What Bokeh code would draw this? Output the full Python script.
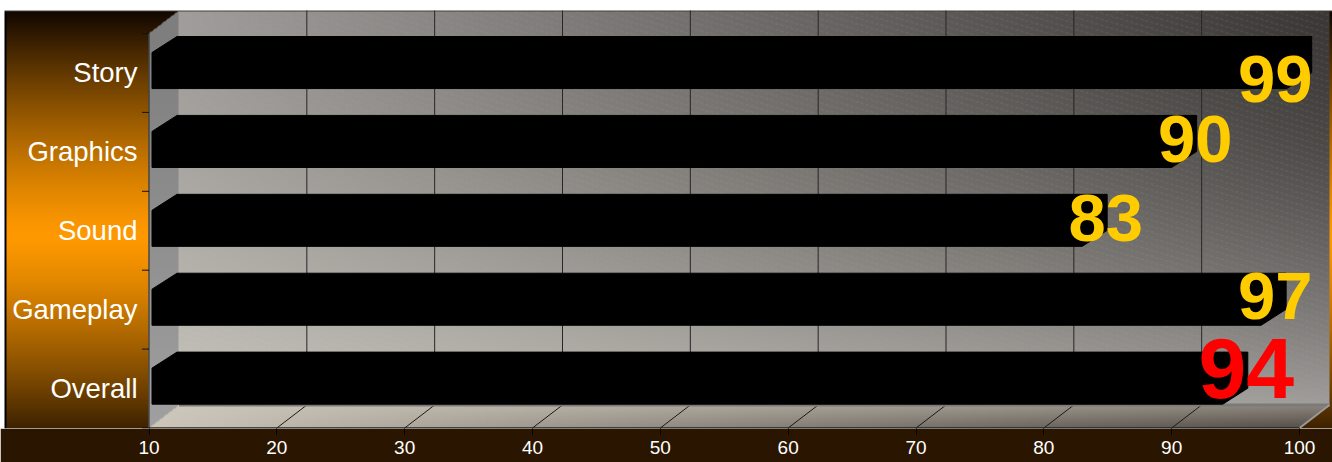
import numpy as np
from bokeh.plotting import figure
from bokeh.models import Range1d, FixedTicker, ColumnDataSource
from bokeh.core.properties import value
from bokeh.embed import file_html
from bokeh.resources import INLINE

# ---------------- data ----------------
categories = ["Overall", "Gameplay", "Sound", "Graphics", "Story"]
scores = [94, 97, 83, 90, 99]
label_colors = ["#FF0000", "#FFCC00", "#FFCC00", "#FFCC00", "#FFCC00"]
label_px = [86, 67, 67, 67, 67]
x_ticks = [10, 20, 30, 40, 50, 60, 70, 80, 90, 100]

# ---------------- layout constants ----------------
W, H = 1332, 462
BOTTOM = 34
FH = H - BOTTOM
X_MIN, X_MAX = x_ticks[0], x_ticks[-1]
N = len(categories)
SX = (1299.0 - 148.5) / (X_MAX - X_MIN)   # px per x unit
SY = (427.5 - 33.0) / N                    # px per category slot
XR0 = X_MIN - 148.5 / SX
XR1 = XR0 + W / SX
YR0 = -(FH - 427.5) / SY
YR1 = YR0 + FH / SY
DX, DY = 30 / SX, 23 / SY       # depth of the walls
BDX, BDY = 25 / SX, 16 / SY     # depth of the bars
BAR_START = X_MIN + 3 / SX
BAR_BOTTOM, BAR_FRONT_TOP = 0.302, 0.759
LABEL_X_MAX, LABEL_Y_MAX = 98.1, 4.113

# ---------------- background picture (gradients) ----------------
PXg, PYg = np.meshgrid(np.arange(W) + 0.5, np.arange(FH) + 0.5)
xd = XR0 + PXg / SX
yd = YR1 - PYg / SY

t = np.clip(np.abs(PYg - 236) / 226, 0, 1) ** 1.3
R = 255 * (1 - t) + 16 * t
G = 153 * (1 - t) + 6 * t
B = np.zeros_like(t)

# back wall
wall = (xd >= X_MIN + DX) & (xd <= X_MAX + DX) & (yd >= DY) & (yd <= N + DY)
xr = np.clip((xd - X_MIN - DX) / (X_MAX - X_MIN), 0, 1)
yr = np.clip((N + DY - yd) / N, 0, 1)
e = yr ** 1.6
top = 158 * (1 - xr) + 56 * xr
bot = 198 * (1 - xr) + 158 * xr
g = top + (bot - top) * e
wr, wg, wb = g + 2, g, g - 6 * (1 - xr) * e - 2
hatch = (np.mod(PYg - 0.3 * PXg, 6) < 1.0) & (np.mod(PXg, 5) < 3.5)
a = 0.18
wr = np.where(hatch, wr * (1 - a) + 215 * a, wr)
wg = np.where(hatch, wg * (1 - a) + 160 * a, wg)
wb = np.where(hatch, wb * (1 - a) + 90 * a, wb)
R = np.where(wall, wr, R); G = np.where(wall, wg, G); B = np.where(wall, wb, B)

# side wall
k = DY / DX
side = (xd >= X_MIN) & (xd < X_MIN + DX) & (yd >= k * (xd - X_MIN)) & (yd <= N + k * (xd - X_MIN))
sg = 126 + 34 * np.clip((N - yd) / N, 0, 1)
R = np.where(side, sg, R); G = np.where(side, sg, G); B = np.where(side, sg, B)

# floor
floor = (yd >= 0) & (yd <= DY) & (xd >= X_MIN + yd / k) & (xd <= X_MAX + yd / k)
fx = np.clip((xd - X_MIN - yd / k) / (X_MAX - X_MIN), 0, 1)
fr = np.clip(1 - yd / DY, 0, 1)
fac = 1 - 0.4 * fr * fx
R = np.where(floor, (205 - 65 * fx) * fac, R)
G = np.where(floor, (198 - 66 * fx) * fac, G)
B = np.where(floor, (186 - 64 * fx) * fac, B)

# outside of the chart box and its border
white = (PXg < 4) | (PYg < 10)
R[white] = 255; G[white] = 255; B[white] = 255
bl = (PXg >= 4) & (PXg < 6) & (PYg >= 10)
R[bl] = 0; G[bl] = 0; B[bl] = 0
bt = (PYg >= 10) & (PYg < 11.5) & (PXg >= 4)
R[bt] = 64; G[bt] = 64; B[bt] = 64

rgba = np.zeros((FH, W, 4), dtype=np.uint8)
rgba[..., 0] = np.clip(R, 0, 255).astype(np.uint8)
rgba[..., 1] = np.clip(G, 0, 255).astype(np.uint8)
rgba[..., 2] = np.clip(B, 0, 255).astype(np.uint8)
rgba[..., 3] = 255
img = np.ascontiguousarray(rgba.view(np.uint32).reshape(FH, W)[::-1])

# ---------------- figure ----------------
p = figure(width=W, height=H, output_backend="svg", toolbar_location=None,
           x_range=Range1d(XR0, XR1), y_range=Range1d(YR0, YR1),
           y_axis_location=None, min_border_left=0, min_border_right=0,
           min_border_top=0, min_border_bottom=BOTTOM)
p.outline_line_color = None
p.background_fill_color = "white"
p.border_fill_color = "#2a1600"
p.grid.visible = False

p.image_rgba(image=[img], x=XR0, y=YR0, dw=XR1 - XR0, dh=YR1 - YR0)

# wall grid lines
inner = x_ticks[1:-1]
p.segment(x0=[v + DX for v in inner], y0=[DY] * len(inner),
          x1=[v + DX for v in inner], y1=[N + DY] * len(inner),
          line_color="#262626", line_width=1)
# floor lines
p.segment(x0=inner, y0=[0] * len(inner), x1=[v + DX for v in inner], y1=[DY] * len(inner),
          line_color="#1a1a1a", line_width=1)
p.segment(x0=[X_MIN + DX], y0=[DY], x1=[X_MAX + DX], y1=[DY], line_color="#7a7a7a", line_width=3)
p.segment(x0=[X_MAX], y0=[0], x1=[X_MAX + DX], y1=[DY], line_color="#9a9a9a", line_width=2)
p.segment(x0=[X_MIN], y0=[0], x1=[X_MAX], y1=[0], line_color="#222222", line_width=1.5)
# category axis
p.segment(x0=[X_MIN], y0=[0], x1=[X_MIN], y1=[N], line_color="#222222", line_width=1)
p.segment(x0=[X_MIN - 7 / SX] * (N + 1), y0=list(range(N + 1)),
          x1=[X_MIN] * (N + 1), y1=list(range(N + 1)), line_color="#111111", line_width=1)

# bars
bar_xs, bar_ys = [], []
for i, v in enumerate(scores):
    y0 = i + BAR_BOTTOM
    y1 = i + BAR_FRONT_TOP
    y2 = y1 + BDY
    bar_xs.append([BAR_START, BAR_START, BAR_START + BDX, v + BDX, v + BDX, v])
    bar_ys.append([y0, y1, y2, y2, y0 + BDY, y0])
p.patches(bar_xs, bar_ys, fill_color="black", line_color="black", line_width=1)

# value labels (centre of the digits: baseline + 0.358 em)
lab = ColumnDataSource(dict(
    x=[min(v + 23.5 / SX, LABEL_X_MAX) for v in scores],
    y=[min(i + 0.363, LABEL_Y_MAX) + 0.358 * s / SY for i, s in enumerate(label_px)],
    text=[str(v) for v in scores],
    color=label_colors,
    size=[f"{s}px" for s in label_px],
))
p.text(x="x", y="y", text="text", source=lab, text_color="color", text_font_size="size",
       text_font=value("Liberation Sans"), text_font_style="bold",
       text_align="center", text_baseline="middle")

# category labels
cat = ColumnDataSource(dict(x=[X_MIN - 11.5 / SX] * N, y=[i + 0.5 for i in range(N)], text=categories))
p.text(x="x", y="y", text="text", source=cat, text_color="white", text_font_size="27.5px",
       text_font=value("Liberation Sans"), text_align="right", text_baseline="middle")

# x axis
ax = p.xaxis[0]
ax.ticker = FixedTicker(ticks=x_ticks)
ax.axis_line_color = None
ax.major_tick_line_color = "black"
ax.major_tick_in = 0
ax.major_tick_out = 6
ax.minor_tick_line_color = None
ax.major_label_text_color = "white"
ax.major_label_text_font = "Liberation Sans"
ax.major_label_text_font_size = "19px"
ax.major_label_standoff = 6

open("out.html", "w").write(file_html(p, INLINE))
